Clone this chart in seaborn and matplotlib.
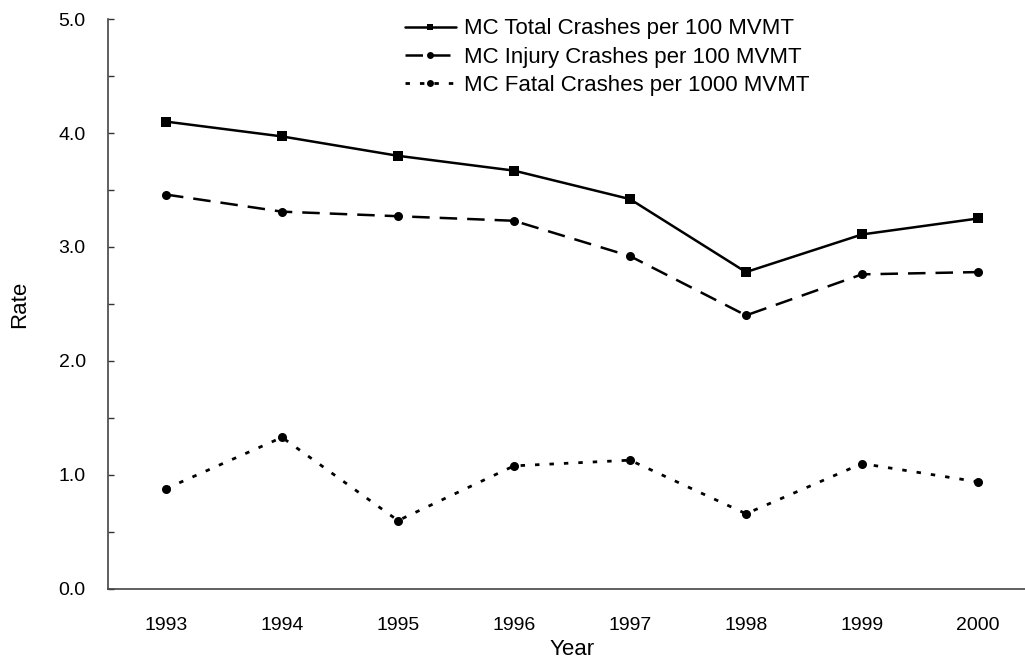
import matplotlib
matplotlib.use("Agg")
import matplotlib.pyplot as plt
from matplotlib.ticker import MultipleLocator, FormatStrFormatter
import pandas as pd
import seaborn as sns

# === Data ===
years = ["1993", "1994", "1995", "1996", "1997", "1998", "1999", "2000"]
total_rate = [4.10, 3.97, 3.80, 3.67, 3.42, 2.78, 3.11, 3.25]
injury_rate = [3.46, 3.31, 3.27, 3.23, 2.92, 2.40, 2.76, 2.78]
fatal_rate = [0.88, 1.33, 0.60, 1.08, 1.13, 0.66, 1.10, 0.94]

labels = [
    "MC Total Crashes per 100 MVMT",
    "MC Injury Crashes per 100 MVMT",
    "MC Fatal Crashes per 1000 MVMT",
]

df = pd.DataFrame({
    "Year": years,
    "total": total_rate,
    "injury": injury_rate,
    "fatal": fatal_rate,
})

sns.set_theme(style="ticks")
plt.rcParams["font.family"] = ["Liberation Sans", "DejaVu Sans"]
plt.rcParams["text.color"] = "black"
plt.rcParams["axes.labelcolor"] = "black"
plt.rcParams["xtick.labelcolor"] = "black"
plt.rcParams["ytick.labelcolor"] = "black"

fig = plt.figure(figsize=(10.25, 6.6), dpi=100)
ax = fig.add_axes([0.1054, 0.1076, 0.9053, 0.8636])

sns.lineplot(data=df, x="Year", y="total", ax=ax, color="black",
             linewidth=1.8, marker="s", markersize=6.5, markeredgewidth=0,
             label=labels[0], sort=False)
sns.lineplot(data=df, x="Year", y="injury", ax=ax, color="black",
             linewidth=1.8, linestyle=(0, (7, 4)), marker="o",
             markersize=6.5, markeredgewidth=0, label=labels[1], sort=False)
sns.lineplot(data=df, x="Year", y="fatal", ax=ax, color="black",
             linewidth=2.0, linestyle=(0, (1.6, 3.6)), marker="o",
             markersize=6.5, markeredgewidth=0, label=labels[2], sort=False)

ax.set_xlim(-0.5, len(years) - 0.5)
ax.set_ylim(0, 5)
ax.yaxis.set_major_locator(MultipleLocator(1.0))
ax.yaxis.set_minor_locator(MultipleLocator(0.5))
ax.yaxis.set_major_formatter(FormatStrFormatter("%.1f"))

ax.tick_params(axis="y", which="both", direction="in", length=4,
               width=1, color="#333333", labelsize=14, pad=16)
ax.tick_params(axis="x", length=0, labelsize=14, pad=20)

for side in ["top", "right"]:
    ax.spines[side].set_visible(False)
for side in ["left", "bottom"]:
    ax.spines[side].set_color("#444444")
    ax.spines[side].set_linewidth(1.2)

ax.set_xlabel("Year", fontsize=16)
ax.set_ylabel("Rate", fontsize=16)
ax.xaxis.set_label_coords(0.5, -0.107)
ax.yaxis.set_label_coords(-0.095, 0.5)
ax.xaxis.label.set_va("center")
ax.yaxis.label.set_va("center")

leg = ax.legend(loc="upper left", bbox_to_anchor=(0.395, 0.972),
                bbox_transform=fig.transFigure, frameon=False, fontsize=16,
                handlelength=2.3, handletextpad=0.35, labelspacing=0.33,
                borderpad=0, borderaxespad=0)
for h in leg.legend_handles:
    h.set_markersize(5)

fig.savefig("out.png", dpi=100)
